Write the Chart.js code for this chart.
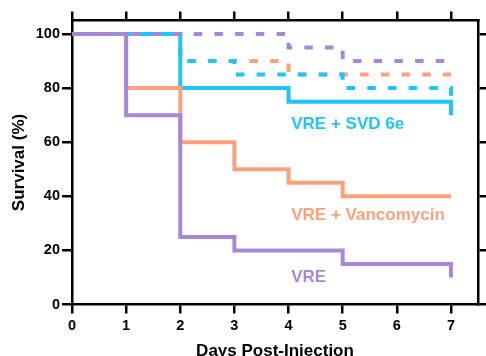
<!DOCTYPE html>
<html>
<head>
<meta charset="utf-8">
<script src="https://cdn.jsdelivr.net/npm/chart.js@4"></script>
<style>
  html, body { margin: 0; padding: 0; background: #fff; }
  #chart { display: block; }
</style>
</head>
<body>
<canvas id="chart" width="486" height="356"></canvas>
<script>
// tick values
const dayTicks = [0, 1, 2, 3, 4, 5, 6, 7];
const survivalTicks = [0, 20, 40, 60, 80, 100];

// solid curves (time of change, survival after it)
const vreDays = [0, 1, 2, 3, 5, 7, 7];
const vreSurvival = [100, 70, 25, 20, 15, 15, 10];
const vancoDays = [0, 1, 2, 3, 4, 5, 7];
const vancoSurvival = [100, 80, 60, 50, 45, 40, 40];
const svdDays = [0, 2, 4, 7, 7];
const svdSurvival = [100, 80, 75, 75, 70];

// dashed curves
const vreDashDays = [0, 4, 5, 7];
const vreDashSurvival = [100, 95, 90, 90];
const vancoDashDays = [0, 2, 4, 7];
const vancoDashSurvival = [100, 90, 85, 85];
const svdDashDays = [0, 2, 3, 5, 7, 7];
const svdDashSurvival = [100, 90, 85, 80, 80, 75];

const labels = ["VRE", "VRE + Vancomycin", "VRE + SVD 6e"];

const PURPLE = "#a688d5";
const SALMON = "#fda17d";
const CYAN = "#1ec5fb";
const FONT = "'Liberation Sans', Arial, sans-serif";

function pts(xs, ys) {
  return xs.map((x, i) => ({ x: x, y: ys[i] }));
}

function curve(label, xs, ys, color, dashed) {
  return {
    label: label,
    data: pts(xs, ys),
    borderColor: color,
    borderWidth: 4,
    borderDash: dashed ? [8.5, 12.2] : [],
    borderDashOffset: dashed ? 2.5 : 0,
    borderCapStyle: "butt",
    borderJoinStyle: "miter",
    stepped: "before",
    pointRadius: 0,
    fill: false
  };
}

// text labels next to curves
const curveLabels = {
  id: "curveLabels",
  afterDatasetsDraw(chart) {
    const { ctx, scales } = chart;
    const items = [
      [labels[2], 4.05, 65, CYAN],
      [labels[1], 4.05, 31.3, SALMON],
      [labels[0], 4.05, 8.3, PURPLE]
    ];
    ctx.save();
    ctx.font = "bold 17px " + FONT;
    ctx.textAlign = "left";
    ctx.textBaseline = "alphabetic";
    items.forEach(([t, x, y, c]) => {
      ctx.fillStyle = c;
      ctx.fillText(t, scales.x.getPixelForValue(x), scales.y.getPixelForValue(y));
    });
    ctx.restore();
  }
};

const axisBase = {
  border: { display: true, color: "#000", width: 2.5 },
  grid: { drawOnChartArea: false, color: "#000", lineWidth: 2.5, tickLength: 9 }
};

new Chart(document.getElementById("chart"), {
  type: "line",
  data: {
    // first dataset is drawn on top
    datasets: [
      curve(labels[0], vreDays, vreSurvival, PURPLE, false),
      curve(labels[0] + " (dashed)", vreDashDays, vreDashSurvival, PURPLE, true),
      curve(labels[1], vancoDays, vancoSurvival, SALMON, false),
      curve(labels[2], svdDays, svdSurvival, CYAN, false),
      curve(labels[2] + " (dashed)", svdDashDays, svdDashSurvival, CYAN, true),
      curve(labels[1] + " (dashed)", vancoDashDays, vancoDashSurvival, SALMON, true)
    ]
  },
  options: {
    responsive: false,
    animation: false,
    layout: { padding: 0 },
    plugins: { legend: { display: false }, tooltip: { enabled: false } },
    scales: {
      x: {
        ...axisBase,
        type: "linear",
        position: "bottom",
        min: 0,
        max: 7.5,
        afterBuildTicks: s => { s.ticks = dayTicks.map(v => ({ value: v })); },
        afterFit: s => { s.height = 51.5; },
        ticks: { color: "#000", padding: 4, font: { family: FONT, size: 14.5, weight: "bold" } },
        title: {
          display: true,
          text: "Days Post-Injection",
          color: "#000",
          padding: { top: 0, bottom: -4 },
          font: { family: FONT, size: 17, weight: "bold", lineHeight: 1 }
        }
      },
      x2: {
        ...axisBase,
        type: "linear",
        position: "top",
        min: 0,
        max: 7.5,
        afterBuildTicks: s => { s.ticks = dayTicks.map(v => ({ value: v })); },
        afterFit: s => { s.height = 20.5; },
        ticks: { display: false }
      },
      y: {
        ...axisBase,
        type: "linear",
        position: "left",
        min: 0,
        max: 105,
        grid: { drawOnChartArea: false, color: "#000", lineWidth: 2.5, tickLength: 10 },
        afterBuildTicks: s => { s.ticks = survivalTicks.map(v => ({ value: v })); },
        afterFit: s => { s.width = 72; },
        ticks: { color: "#000", padding: 2, font: { family: FONT, size: 14.5, weight: "bold" } },
        title: {
          display: true,
          text: "Survival (%)",
          color: "#000",
          padding: { top: 10.5, bottom: 0 },
          font: { family: FONT, size: 17, weight: "bold", lineHeight: 1 }
        }
      },
      y2: {
        ...axisBase,
        type: "linear",
        position: "right",
        min: 0,
        max: 105,
        afterBuildTicks: s => { s.ticks = survivalTicks.map(v => ({ value: v })); },
        afterFit: s => { s.width = 8; },
        ticks: { display: false }
      }
    }
  },
  plugins: [curveLabels]
});
</script>
</body>
</html>
